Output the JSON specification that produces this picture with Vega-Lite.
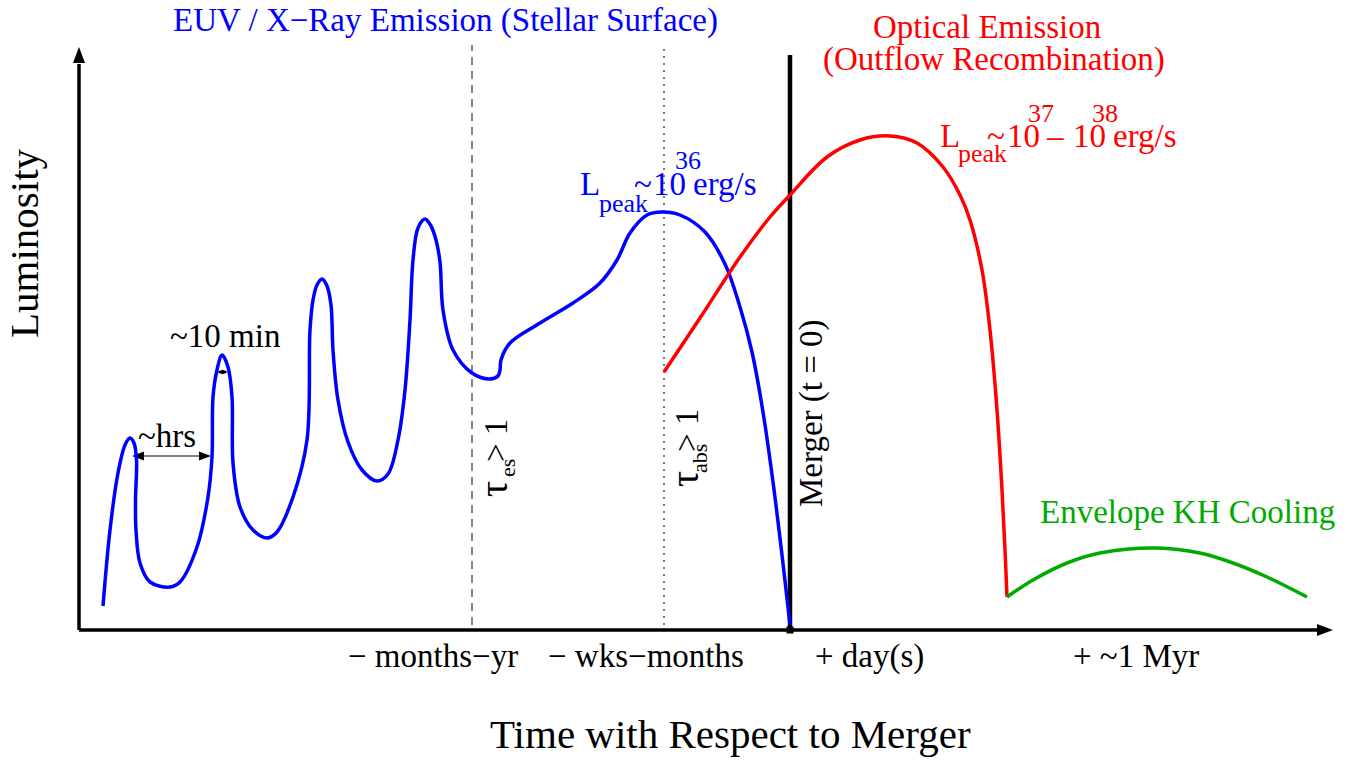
{
  "$schema": "https://vega.github.io/schema/vega-lite/v6.json",
  "width": 1353,
  "height": 760,
  "autosize": {"type": "none"},
  "padding": 0,
  "background": "white",
  "config": {"view": {"stroke": null}, "text": {"font": "Liberation Serif"}},
  "datasets": {
    "curves": [
      {"series": "EUV / X-ray", "i": 0, "t": -687, "L": 24},
      {"series": "EUV / X-ray", "i": 1, "t": -680, "L": 100},
      {"series": "EUV / X-ray", "i": 2, "t": -672, "L": 157},
      {"series": "EUV / X-ray", "i": 3, "t": -665, "L": 185},
      {"series": "EUV / X-ray", "i": 4, "t": -660, "L": 192},
      {"series": "EUV / X-ray", "i": 5, "t": -656, "L": 187},
      {"series": "EUV / X-ray", "i": 6, "t": -653.5, "L": 170},
      {"series": "EUV / X-ray", "i": 7, "t": -654.5, "L": 130},
      {"series": "EUV / X-ray", "i": 8, "t": -654, "L": 100},
      {"series": "EUV / X-ray", "i": 9, "t": -650, "L": 67},
      {"series": "EUV / X-ray", "i": 10, "t": -640, "L": 48},
      {"series": "EUV / X-ray", "i": 11, "t": -620, "L": 43},
      {"series": "EUV / X-ray", "i": 12, "t": -610, "L": 48},
      {"series": "EUV / X-ray", "i": 13, "t": -593, "L": 83},
      {"series": "EUV / X-ray", "i": 14, "t": -582, "L": 133},
      {"series": "EUV / X-ray", "i": 15, "t": -578, "L": 173},
      {"series": "EUV / X-ray", "i": 16, "t": -577, "L": 233},
      {"series": "EUV / X-ray", "i": 17, "t": -573, "L": 260},
      {"series": "EUV / X-ray", "i": 18, "t": -568, "L": 275},
      {"series": "EUV / X-ray", "i": 19, "t": -562, "L": 263},
      {"series": "EUV / X-ray", "i": 20, "t": -558, "L": 233},
      {"series": "EUV / X-ray", "i": 21, "t": -557, "L": 167},
      {"series": "EUV / X-ray", "i": 22, "t": -550, "L": 123},
      {"series": "EUV / X-ray", "i": 23, "t": -537, "L": 100},
      {"series": "EUV / X-ray", "i": 24, "t": -523, "L": 92},
      {"series": "EUV / X-ray", "i": 25, "t": -513, "L": 98},
      {"series": "EUV / X-ray", "i": 26, "t": -497, "L": 133},
      {"series": "EUV / X-ray", "i": 27, "t": -483, "L": 190},
      {"series": "EUV / X-ray", "i": 28, "t": -480, "L": 300},
      {"series": "EUV / X-ray", "i": 29, "t": -477, "L": 330},
      {"series": "EUV / X-ray", "i": 30, "t": -473, "L": 345},
      {"series": "EUV / X-ray", "i": 31, "t": -468, "L": 351},
      {"series": "EUV / X-ray", "i": 32, "t": -463, "L": 344},
      {"series": "EUV / X-ray", "i": 33, "t": -459, "L": 325},
      {"series": "EUV / X-ray", "i": 34, "t": -457, "L": 280},
      {"series": "EUV / X-ray", "i": 35, "t": -452, "L": 230},
      {"series": "EUV / X-ray", "i": 36, "t": -442, "L": 188},
      {"series": "EUV / X-ray", "i": 37, "t": -428, "L": 160},
      {"series": "EUV / X-ray", "i": 38, "t": -413, "L": 149},
      {"series": "EUV / X-ray", "i": 39, "t": -402, "L": 156},
      {"series": "EUV / X-ray", "i": 40, "t": -392, "L": 190},
      {"series": "EUV / X-ray", "i": 41, "t": -385, "L": 240},
      {"series": "EUV / X-ray", "i": 42, "t": -380, "L": 310},
      {"series": "EUV / X-ray", "i": 43, "t": -377, "L": 370},
      {"series": "EUV / X-ray", "i": 44, "t": -372, "L": 402},
      {"series": "EUV / X-ray", "i": 45, "t": -365, "L": 411},
      {"series": "EUV / X-ray", "i": 46, "t": -359, "L": 404},
      {"series": "EUV / X-ray", "i": 47, "t": -354, "L": 390},
      {"series": "EUV / X-ray", "i": 48, "t": -350, "L": 368},
      {"series": "EUV / X-ray", "i": 49, "t": -347, "L": 320},
      {"series": "EUV / X-ray", "i": 50, "t": -337, "L": 280},
      {"series": "EUV / X-ray", "i": 51, "t": -318, "L": 257},
      {"series": "EUV / X-ray", "i": 52, "t": -300, "L": 251},
      {"series": "EUV / X-ray", "i": 53, "t": -292, "L": 254},
      {"series": "EUV / X-ray", "i": 54, "t": -290, "L": 260},
      {"series": "EUV / X-ray", "i": 55, "t": -289, "L": 270},
      {"series": "EUV / X-ray", "i": 56, "t": -280, "L": 287},
      {"series": "EUV / X-ray", "i": 57, "t": -250, "L": 307},
      {"series": "EUV / X-ray", "i": 58, "t": -217, "L": 327},
      {"series": "EUV / X-ray", "i": 59, "t": -190, "L": 347},
      {"series": "EUV / X-ray", "i": 60, "t": -173, "L": 370},
      {"series": "EUV / X-ray", "i": 61, "t": -160, "L": 397},
      {"series": "EUV / X-ray", "i": 62, "t": -143, "L": 415},
      {"series": "EUV / X-ray", "i": 63, "t": -128, "L": 418},
      {"series": "EUV / X-ray", "i": 64, "t": -110, "L": 415},
      {"series": "EUV / X-ray", "i": 65, "t": -85, "L": 398},
      {"series": "EUV / X-ray", "i": 66, "t": -65, "L": 366},
      {"series": "EUV / X-ray", "i": 67, "t": -50, "L": 323},
      {"series": "EUV / X-ray", "i": 68, "t": -38, "L": 278},
      {"series": "EUV / X-ray", "i": 69, "t": -27, "L": 218},
      {"series": "EUV / X-ray", "i": 70, "t": -17, "L": 148},
      {"series": "EUV / X-ray", "i": 71, "t": -8, "L": 75},
      {"series": "EUV / X-ray", "i": 72, "t": 0, "L": 5},
      {"series": "Optical", "i": 0, "t": -126, "L": 258},
      {"series": "Optical", "i": 1, "t": -90, "L": 312},
      {"series": "Optical", "i": 2, "t": -50, "L": 373},
      {"series": "Optical", "i": 3, "t": -20, "L": 413},
      {"series": "Optical", "i": 4, "t": 0, "L": 435},
      {"series": "Optical", "i": 5, "t": 37, "L": 473},
      {"series": "Optical", "i": 6, "t": 70, "L": 490},
      {"series": "Optical", "i": 7, "t": 100, "L": 494},
      {"series": "Optical", "i": 8, "t": 127, "L": 487},
      {"series": "Optical", "i": 9, "t": 153, "L": 463},
      {"series": "Optical", "i": 10, "t": 170, "L": 435},
      {"series": "Optical", "i": 11, "t": 180, "L": 410},
      {"series": "Optical", "i": 12, "t": 192, "L": 360},
      {"series": "Optical", "i": 13, "t": 200, "L": 300},
      {"series": "Optical", "i": 14, "t": 207, "L": 220},
      {"series": "Optical", "i": 15, "t": 212, "L": 140},
      {"series": "Optical", "i": 16, "t": 215, "L": 80},
      {"series": "Optical", "i": 17, "t": 217, "L": 33},
      {"series": "KH cooling", "i": 0, "t": 217, "L": 33},
      {"series": "KH cooling", "i": 1, "t": 243, "L": 50},
      {"series": "KH cooling", "i": 2, "t": 277, "L": 67},
      {"series": "KH cooling", "i": 3, "t": 310, "L": 77},
      {"series": "KH cooling", "i": 4, "t": 367, "L": 82},
      {"series": "KH cooling", "i": 5, "t": 410, "L": 77},
      {"series": "KH cooling", "i": 6, "t": 443, "L": 67},
      {"series": "KH cooling", "i": 7, "t": 477, "L": 53},
      {"series": "KH cooling", "i": 8, "t": 517, "L": 33}
    ],
    "rules": [
      {"kind": "axis", "t": -711, "L": 0, "t2": -711, "L2": 566},
      {"kind": "axis", "t": -711, "L": 0, "t2": 530, "L2": 0},
      {"kind": "merger", "t": 0, "L": 0, "t2": 0, "L2": 575},
      {"kind": "dashed", "t": -318, "L": 5, "t2": -318, "L2": 585},
      {"kind": "dotted", "t": -126, "L": 5, "t2": -126, "L2": 585},
      {"kind": "hrs", "t": -655, "L": 174, "t2": -582, "L2": 174},
      {"kind": "min", "t": -571, "L": 258, "t2": -564, "L2": 258}
    ],
    "heads": [
      {"kind": "axis", "dir": "up", "t": -711, "L": 575},
      {"kind": "axis", "dir": "right", "t": 535, "L": 0},
      {"kind": "hrs", "dir": "left", "t": -652, "L": 174},
      {"kind": "hrs", "dir": "right", "t": -585, "L": 174},
      {"kind": "min", "dir": "left", "t": -570, "L": 258},
      {"kind": "min", "dir": "right", "t": -565, "L": 258},
      {"kind": "corner", "dir": "square", "t": 0, "L": 0}
    ],
    "labels": [
      {"style": "blue", "text": "EUV / X−Ray Emission (Stellar Surface)", "t": -617, "L": 599},
      {"style": "blue", "text": "L", "t": -210, "L": 435},
      {"style": "blue", "text": "~", "t": -156, "L": 435},
      {"style": "blue", "text": "10", "t": -137, "L": 435},
      {"style": "blue", "text": "erg/s", "t": -97, "L": 435},
      {"style": "blue-small", "text": "peak", "t": -191, "L": 418},
      {"style": "blue-small", "text": "36", "t": -115, "L": 461},
      {"style": "red", "text": "Optical Emission", "t": 83, "L": 592},
      {"style": "red", "text": "(Outflow Recombination)", "t": 33, "L": 560},
      {"style": "red", "text": "L", "t": 150, "L": 483},
      {"style": "red", "text": "~", "t": 197, "L": 483},
      {"style": "red", "text": "10", "t": 217, "L": 483},
      {"style": "red", "text": "–", "t": 257, "L": 483},
      {"style": "red", "text": "10", "t": 283, "L": 483},
      {"style": "red", "text": "erg/s", "t": 323, "L": 483},
      {"style": "red-small", "text": "peak", "t": 168, "L": 468},
      {"style": "red-small", "text": "37", "t": 238, "L": 508},
      {"style": "red-small", "text": "38", "t": 302, "L": 508},
      {"style": "green", "text": "Envelope KH Cooling", "t": 250, "L": 107},
      {"style": "black", "text": "~10 min", "t": -620, "L": 283},
      {"style": "black", "text": "~hrs", "t": -652, "L": 183},
      {"style": "black", "text": "− months−yr", "t": -442, "L": -37},
      {"style": "black", "text": "− wks−months", "t": -242, "L": -37},
      {"style": "black", "text": "+ day(s)", "t": 25, "L": -37},
      {"style": "black", "text": "+ ~1 Myr", "t": 283, "L": -37},
      {"style": "title", "text": "Time with Respect to Merger", "t": -300, "L": -118},
      {"style": "title-v", "text": "Luminosity", "t": -752, "L": 292},
      {"style": "vertical", "text": "Merger (t = 0)", "t": 32, "L": 123},
      {"style": "vertical", "text": "> 1", "t": -283, "L": 168},
      {"style": "vertical", "text": "> 1", "t": -92, "L": 178},
      {"style": "tau", "text": "τ", "t": -283, "L": 133},
      {"style": "tau", "text": "τ", "t": -92, "L": 143},
      {"style": "vertical-small", "text": "es", "t": -275, "L": 153},
      {"style": "vertical-small", "text": "abs", "t": -83, "L": 157}
    ]
  },
  "encoding": {
    "x": {"field": "t", "type": "quantitative", "scale": {"domain": [-790, 563], "nice": false, "zero": false}, "axis": null},
    "y": {"field": "L", "type": "quantitative", "scale": {"domain": [-130, 630], "nice": false, "zero": false}, "axis": null}
  },
  "layer": [
    {
      "data": {"name": "rules"},
      "transform": [{"filter": "datum.kind === 'dashed'"}],
      "mark": {"type": "rule", "color": "#444444", "strokeWidth": 1.3, "strokeDash": [8, 6]},
      "encoding": {"x2": {"field": "t2"}, "y2": {"field": "L2"}}
    },
    {
      "data": {"name": "rules"},
      "transform": [{"filter": "datum.kind === 'dotted'"}],
      "mark": {"type": "rule", "color": "#333333", "strokeWidth": 1.3, "strokeDash": [2, 5]},
      "encoding": {"x2": {"field": "t2"}, "y2": {"field": "L2"}}
    },
    {
      "data": {"name": "rules"},
      "transform": [{"filter": "datum.kind === 'axis'"}],
      "mark": {"type": "rule", "color": "black", "strokeWidth": 3.5},
      "encoding": {"x2": {"field": "t2"}, "y2": {"field": "L2"}}
    },
    {
      "data": {"name": "rules"},
      "transform": [{"filter": "datum.kind === 'merger'"}],
      "mark": {"type": "rule", "color": "black", "strokeWidth": 4.5},
      "encoding": {"x2": {"field": "t2"}, "y2": {"field": "L2"}}
    },
    {
      "data": {"name": "rules"},
      "transform": [{"filter": "datum.kind === 'hrs'"}],
      "mark": {"type": "rule", "color": "black", "strokeWidth": 1},
      "encoding": {"x2": {"field": "t2"}, "y2": {"field": "L2"}}
    },
    {
      "data": {"name": "rules"},
      "transform": [{"filter": "datum.kind === 'min'"}],
      "mark": {"type": "rule", "color": "black", "strokeWidth": 2.5},
      "encoding": {"x2": {"field": "t2"}, "y2": {"field": "L2"}}
    },
    {
      "data": {"name": "heads"},
      "transform": [{"filter": "datum.kind === 'axis'"}],
      "mark": {"type": "point", "filled": true, "color": "black", "size": 256, "opacity": 1},
      "encoding": {"shape": {"field": "dir", "type": "nominal", "scale": {"domain": ["up", "right", "left", "square"], "range": ["M0,-1L-0.75,1L0.75,1Z", "M1,0L-1,-0.75L-1,0.75Z", "M-1,0L1,-0.75L1,0.75Z", "square"]}, "legend": null}}
    },
    {
      "data": {"name": "heads"},
      "transform": [{"filter": "datum.kind === 'hrs'"}],
      "mark": {"type": "point", "filled": true, "color": "black", "size": 144, "opacity": 1},
      "encoding": {"shape": {"field": "dir", "type": "nominal", "scale": {"domain": ["up", "right", "left", "square"], "range": ["M0,-1L-0.75,1L0.75,1Z", "M1,0L-1,-0.6L-1,0.6Z", "M-1,0L1,-0.6L1,0.6Z", "square"]}, "legend": null}}
    },
    {
      "data": {"name": "heads"},
      "transform": [{"filter": "datum.kind === 'min'"}],
      "mark": {"type": "point", "filled": true, "color": "black", "size": 36, "opacity": 1},
      "encoding": {"shape": {"field": "dir", "type": "nominal", "scale": {"domain": ["up", "right", "left", "square"], "range": ["M0,-1L-0.75,1L0.75,1Z", "M1,0L-1,-1L-1,1Z", "M-1,0L1,-1L1,1Z", "square"]}, "legend": null}}
    },
    {
      "data": {"name": "heads"},
      "transform": [{"filter": "datum.kind === 'corner'"}],
      "mark": {"type": "square", "filled": true, "color": "black", "size": 49, "opacity": 1}
    },
    {
      "data": {"name": "curves"},
      "mark": {"type": "line", "strokeWidth": 3.5, "interpolate": "catmull-rom"},
      "encoding": {
        "color": {"field": "series", "type": "nominal", "scale": {"domain": ["EUV / X-ray", "Optical", "KH cooling"], "range": ["#0000ff", "#ff0000", "#00aa00"]}, "legend": null},
        "order": {"field": "i", "type": "quantitative"}
      }
    },
    {
      "data": {"name": "labels"},
      "transform": [{"filter": "datum.style === 'blue'"}],
      "mark": {"type": "text", "font": "Liberation Serif", "align": "left", "baseline": "alphabetic", "fontSize": 33, "color": "#0000ff"},
      "encoding": {"text": {"field": "text"}}
    },
    {
      "data": {"name": "labels"},
      "transform": [{"filter": "datum.style === 'blue-small'"}],
      "mark": {"type": "text", "font": "Liberation Serif", "align": "left", "baseline": "alphabetic", "fontSize": 26, "color": "#0000ff"},
      "encoding": {"text": {"field": "text"}}
    },
    {
      "data": {"name": "labels"},
      "transform": [{"filter": "datum.style === 'red'"}],
      "mark": {"type": "text", "font": "Liberation Serif", "align": "left", "baseline": "alphabetic", "fontSize": 33, "color": "#ff0000"},
      "encoding": {"text": {"field": "text"}}
    },
    {
      "data": {"name": "labels"},
      "transform": [{"filter": "datum.style === 'red-small'"}],
      "mark": {"type": "text", "font": "Liberation Serif", "align": "left", "baseline": "alphabetic", "fontSize": 26, "color": "#ff0000"},
      "encoding": {"text": {"field": "text"}}
    },
    {
      "data": {"name": "labels"},
      "transform": [{"filter": "datum.style === 'green'"}],
      "mark": {"type": "text", "font": "Liberation Serif", "align": "left", "baseline": "alphabetic", "fontSize": 33, "color": "#00aa00"},
      "encoding": {"text": {"field": "text"}}
    },
    {
      "data": {"name": "labels"},
      "transform": [{"filter": "datum.style === 'black'"}],
      "mark": {"type": "text", "font": "Liberation Serif", "align": "left", "baseline": "alphabetic", "fontSize": 33, "color": "black"},
      "encoding": {"text": {"field": "text"}}
    },
    {
      "data": {"name": "labels"},
      "transform": [{"filter": "datum.style === 'title'"}],
      "mark": {"type": "text", "font": "Liberation Serif", "align": "left", "baseline": "alphabetic", "fontSize": 41, "color": "black"},
      "encoding": {"text": {"field": "text"}}
    },
    {
      "data": {"name": "labels"},
      "transform": [{"filter": "datum.style === 'title-v'"}],
      "mark": {"type": "text", "font": "Liberation Serif", "align": "left", "baseline": "alphabetic", "fontSize": 41, "angle": 270, "color": "black"},
      "encoding": {"text": {"field": "text"}}
    },
    {
      "data": {"name": "labels"},
      "transform": [{"filter": "datum.style === 'vertical'"}],
      "mark": {"type": "text", "font": "Liberation Serif", "align": "left", "baseline": "alphabetic", "fontSize": 33, "angle": 270, "color": "black"},
      "encoding": {"text": {"field": "text"}}
    },
    {
      "data": {"name": "labels"},
      "transform": [{"filter": "datum.style === 'tau'"}],
      "mark": {"type": "text", "font": "Liberation Serif", "align": "left", "baseline": "alphabetic", "fontSize": 40, "angle": 270, "color": "black"},
      "encoding": {"text": {"field": "text"}}
    },
    {
      "data": {"name": "labels"},
      "transform": [{"filter": "datum.style === 'vertical-small'"}],
      "mark": {"type": "text", "font": "Liberation Serif", "align": "left", "baseline": "alphabetic", "fontSize": 22, "angle": 270, "color": "black"},
      "encoding": {"text": {"field": "text"}}
    }
  ]
}
